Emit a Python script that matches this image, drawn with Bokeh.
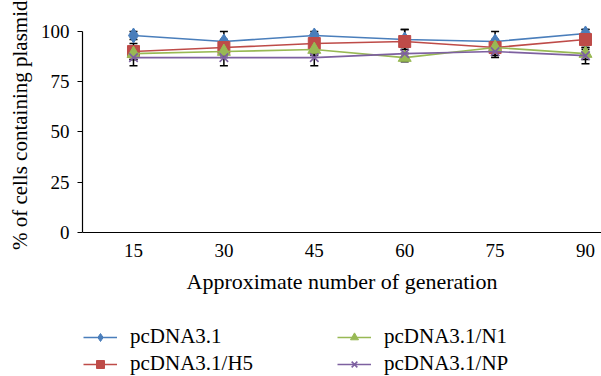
from bokeh.plotting import figure
from bokeh.models import (ColumnDataSource, Range1d, FixedTicker, Whisker, TeeHead,
                          Legend, LegendItem, Title)
from bokeh.embed import file_html
from bokeh.resources import INLINE

generations = ["15", "30", "45", "60", "75", "90"]
pcdna = [98, 95, 98, 96, 95, 99]
pcdna_err = [2, 5, 2, 5, 5, 2]
h5 = [90, 92, 94, 95, 92, 96]
h5_err = [4, 4, 5, 6, 4, 5]
n1 = [89, 90, 91, 87, 92, 89]
n1_err = [3, 3, 3, 2, 3, 3]
np_ = [87, 87, 87, 89, 90, 88]
np_err = [4, 4, 4, 3, 3, 4]
y_title = "% of cells containing plasmid"
x_title = "Approximate number of generation"

series = [
    ("pcDNA3.1", pcdna, pcdna_err, "#4a7ebb", "diamond", 15),
    ("pcDNA3.1/H5", h5, h5_err, "#be4b48", "square", 12),
    ("pcDNA3.1/N1", n1, n1_err, "#98b954", "triangle", 13),
    ("pcDNA3.1/NP", np_, np_err, "#7d60a0", "x", 12),
]

FONT = "Liberation Serif"
xs = list(range(1, len(generations) + 1))

p = figure(width=601, height=376, output_backend="svg", toolbar_location=None,
           x_range=Range1d(0.436, 6.177), y_range=Range1d(-71.6, 115.4),
           min_border_left=82, min_border_right=0, min_border_top=0,
           min_border_bottom=0)
p.outline_line_color = None
p.grid.visible = False
p.background_fill_color = "white"

items = []
for name, vals, errs, col, mk, sz in series:
    src = ColumnDataSource(dict(x=xs, y=vals,
                                lo=[v - e for v, e in zip(vals, errs)],
                                hi=[v + e for v, e in zip(vals, errs)]))
    l = p.line("x", "y", source=src, line_color=col, line_width=1.6)
    if mk == "x":
        s = p.scatter("x", "y", source=src, marker=mk, size=sz, line_color=col, line_width=1.6)
    else:
        s = p.scatter("x", "y", source=src, marker=mk, size=sz, fill_color=col, line_color=col)
    w = Whisker(source=src, base="x", upper="hi", lower="lo", dimension="height",
                line_color="black", line_width=1.5,
                upper_head=TeeHead(size=8, line_color="black", line_width=1.5),
                lower_head=TeeHead(size=8, line_color="black", line_width=1.5))
    p.add_layout(w)
    items.append(LegendItem(label=name, renderers=[l, s]))

# axes
p.yaxis.ticker = FixedTicker(ticks=[0, 25, 50, 75, 100])
p.yaxis.bounds = (0, 100)
p.yaxis.minor_tick_line_color = None
p.yaxis.major_tick_out = 5
p.yaxis.major_tick_in = 0
p.yaxis.major_tick_line_color = "black"
p.yaxis.major_label_standoff = 8

ytitle = Title(text=y_title, align="right", text_font=FONT, text_font_size="21px",
               text_font_style="normal", text_color="black", standoff=11, offset=0)
p.add_layout(ytitle, "left")

p.xaxis.fixed_location = 0
p.xaxis.ticker = FixedTicker(ticks=xs)
p.xaxis.major_label_overrides = {x: g for x, g in zip(xs, generations)}
p.xaxis.major_tick_line_color = None
p.xaxis.minor_tick_line_color = None
p.xaxis.major_label_standoff = 5
p.xaxis.axis_label = x_title
p.xaxis.axis_label_standoff = 9
p.xaxis.axis_label_text_font_size = "22px"
for ax in (p.xaxis[0], p.yaxis[0]):
    ax.axis_line_color = "black"
    ax.axis_line_width = 1.2
    ax.major_label_text_font = FONT
    ax.major_label_text_font_size = "19px"
    ax.major_label_text_color = "black"
    ax.axis_label_text_font = FONT
    ax.axis_label_text_font_style = "normal"
    ax.axis_label_text_color = "black"

for its, xloc in ((items[:2], 1), (items[2:], 255)):
    lg = Legend(items=its, location=(xloc, 0), orientation="vertical",
                label_text_font=FONT, label_text_font_size="21px",
                label_text_color="black", glyph_width=34, glyph_height=20,
                label_height=20, spacing=2, padding=0, margin=0,
                border_line_color=None, background_fill_alpha=0,
                label_standoff=13)
    p.add_layout(lg, "center")

open("out.html", "w").write(file_html(p, INLINE))
